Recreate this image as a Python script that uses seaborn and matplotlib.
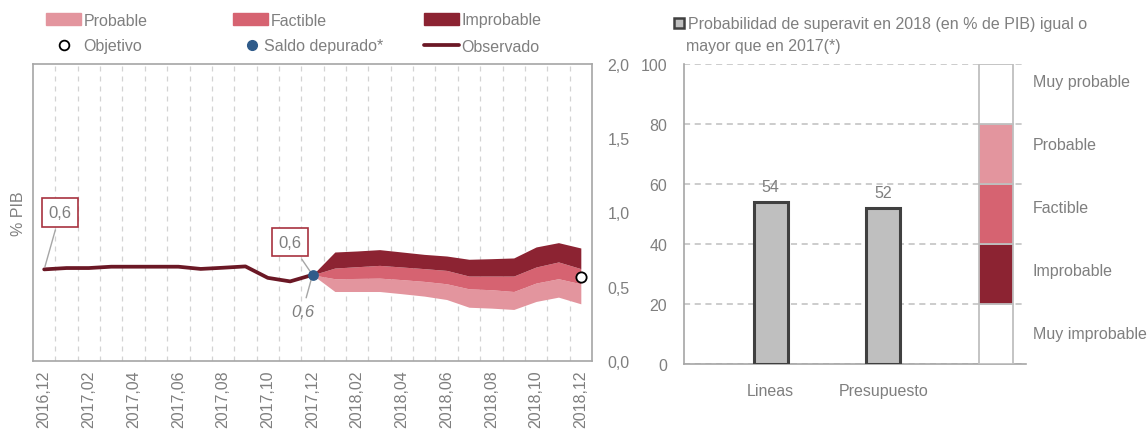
import matplotlib
matplotlib.use("Agg")
import matplotlib.pyplot as plt
import seaborn as sns
import pandas as pd
from matplotlib.patches import Patch
from matplotlib.lines import Line2D

# ---- data -------------------------------------------------------------
months = ["2016,12", "2017,01", "2017,02", "2017,03", "2017,04", "2017,05", "2017,06",
          "2017,07", "2017,08", "2017,09", "2017,10", "2017,11", "2017,12",
          "2018,01", "2018,02", "2018,03", "2018,04", "2018,05", "2018,06",
          "2018,07", "2018,08", "2018,09", "2018,10", "2018,11", "2018,12"]

observado = [0.617, 0.626, 0.626, 0.635, 0.635, 0.635, 0.635,
             0.620, 0.628, 0.637, 0.560, 0.536, 0.580]

# fan chart limits from 2017,12 to 2018,12
fan_bottom = [0.580, 0.468, 0.468, 0.468, 0.453, 0.437, 0.414, 0.362, 0.356, 0.347, 0.401, 0.430, 0.385]
fan_low = [0.580, 0.554, 0.556, 0.558, 0.548, 0.536, 0.520, 0.486, 0.480, 0.468, 0.525, 0.554, 0.520]
fan_high = [0.580, 0.626, 0.635, 0.644, 0.633, 0.622, 0.610, 0.572, 0.572, 0.572, 0.633, 0.667, 0.622]
fan_top = [0.580, 0.734, 0.741, 0.750, 0.734, 0.718, 0.707, 0.685, 0.689, 0.694, 0.768, 0.797, 0.761]

objetivo = 0.565
saldo_depurado = 0.580

bar_cats = ["Lineas", "Presupuesto"]
bar_vals = [54, 52]

gauge_labels = ["Muy improbable", "Improbable", "Factible", "Probable", "Muy probable"]
gauge_edges = [0, 20, 40, 60, 80, 100]
gauge_label_y = [10, 31, 52, 73, 94]

title_lines = ["Probabilidad de superavit en 2018 (en % de PIB) igual o", "mayor que en 2017(*)"]

# ---- style ------------------------------------------------------------
sns.set_theme(style="white")
plt.rcParams["font.family"] = ["Liberation Sans Narrow", "Liberation Sans", "DejaVu Sans"]
GRAY = "#7F7F7F"
C_PROB = "#E3959E"
C_FACT = "#D66371"
C_IMPR = "#8C2332"
C_OBS = "#6B1825"
C_BLUE = "#2F5B8A"
BOX = "#A8323F"
FS = 11.5

fig = plt.figure(figsize=(11.48, 4.35), dpi=100)
ax = fig.add_axes([33 / 1148, 1 - 362 / 435, (592 - 33) / 1148, (362 - 65) / 435])
ax2 = fig.add_axes([684 / 1148, 1 - 365 / 435, (1026 - 684) / 1148, (365 - 65) / 435])

# ---- left: fan chart --------------------------------------------------
x_all = list(range(len(months)))
n_obs = len(observado)
x_fan = x_all[n_obs - 1:]

ax.fill_between(x_fan, fan_bottom, fan_low, color=C_PROB, lw=0, zorder=2)
ax.fill_between(x_fan, fan_low, fan_high, color=C_FACT, lw=0, zorder=2)
ax.fill_between(x_fan, fan_high, fan_top, color=C_IMPR, lw=0, zorder=2)

obs_df = pd.DataFrame({"x": x_all[:n_obs], "v": observado})
sns.lineplot(data=obs_df, x="x", y="v", ax=ax, color=C_OBS, lw=2.7, zorder=3)
ax.scatter([x_all[n_obs - 1]], [saldo_depurado], s=45, color=C_BLUE, zorder=4)
ax.scatter([x_all[-1]], [objetivo], s=55, facecolor="white", edgecolor="black", lw=1.3, zorder=5)

fmt = lambda v: f"{v:.1f}".replace(".", ",")
box = dict(boxstyle="square,pad=0.4", fc="white", ec=BOX, lw=1.2)
arrow = dict(arrowstyle="-", color="#A6A6A6", lw=1)
ax.annotate(fmt(observado[0]), xy=(0, observado[0]), xytext=(0.72, 1.0),
            ha="center", va="center", fontsize=12, color=GRAY, bbox=box, arrowprops=arrow)
ax.annotate(fmt(observado[-1]), xy=(n_obs - 1, observado[-1]), xytext=(11.0, 0.80),
            ha="center", va="center", fontsize=12, color=GRAY, bbox=box, arrowprops=arrow)
ax.annotate(fmt(saldo_depurado), xy=(n_obs - 1, saldo_depurado), xytext=(11.55, 0.335),
            ha="center", va="center", fontsize=12, color=GRAY, style="italic", arrowprops=arrow)

ax.set_xlim(-0.5, len(months) - 0.5)
ax.set_ylim(0, 2)
ax.set_xticks(x_all[::2])
ax.set_xticklabels(months[::2], rotation=90, fontsize=11.5, color=GRAY)
ax.set_xticks([i + 0.5 for i in x_all[:-1]], minor=True)
ax.grid(which="minor", axis="x", color="#D3D3D3", ls=(0, (4, 4)), lw=0.9)
ax.grid(which="major", axis="both", visible=False)
ax.yaxis.tick_right()
ax.set_yticks([0, 0.5, 1, 1.5, 2])
ax.set_yticklabels([fmt(v) for v in [0, 0.5, 1, 1.5, 2]], fontsize=FS, color=GRAY)
ax.tick_params(axis="both", which="both", length=0)
ax.tick_params(axis="y", pad=11)
ax.tick_params(axis="x", pad=6)
ax.set_xlabel("")
ax.yaxis.set_label_position("left")
ax.set_ylabel("% PIB", fontsize=FS, color=GRAY, labelpad=5)
for s in ax.spines.values():
    s.set_color("#A6A6A6")
    s.set_linewidth(1.2)

# legend of left chart, one small legend per entry (handle x, row y, handle width in px)
entries = [
    (Patch(color=C_PROB), "Probable", 46, 21, 35),
    (Line2D([], [], ls="", marker="o", ms=7, mfc="white", mec="black", mew=1.3), "Objetivo", 46, 47, 35),
    (Patch(color=C_FACT), "Factible", 233, 21, 35),
    (Line2D([], [], ls="", marker="o", ms=7, color=C_BLUE), "Saldo depurado*", 241, 47, 21),
    (Patch(color=C_IMPR), "Improbable", 424, 21, 35),
    (Line2D([], [], color=C_OBS, lw=2.7), "Observado", 424, 47, 35),
]
fs_pix = FS * 100 / 72
for h, lab, xpix, ypix, wpix in entries:
    leg = fig.legend([h], [lab], loc="center left", bbox_to_anchor=(xpix / 1148, 1 - ypix / 435),
                     frameon=False, fontsize=FS, handlelength=wpix / fs_pix, handleheight=0.85,
                     handletextpad=0.15, borderpad=0, borderaxespad=0)
    for t in leg.get_texts():
        t.set_color(GRAY)

# ---- right: probability bars ------------------------------------------
bar_df = pd.DataFrame({"cat": bar_cats, "val": bar_vals})
sns.barplot(data=bar_df, x="cat", y="val", ax=ax2, color="#BFBFBF", width=0.3,
            edgecolor="#404040", linewidth=2.2, saturation=1, zorder=3)
ax2.bar_label(ax2.containers[0], labels=[str(v) for v in bar_vals], padding=6,
              fontsize=FS, color=GRAY)

g_colors = ["white", C_IMPR, C_FACT, C_PROB, "white"]
for lo, hi, c in zip(gauge_edges[:-1], gauge_edges[1:], g_colors):
    ax2.bar([2], [hi - lo], bottom=[lo], width=0.3, color=c, edgecolor="#BFBFBF", linewidth=1.3, zorder=3)
for lab, yv in zip(gauge_labels, gauge_label_y):
    ax2.text(1.02, yv, lab, transform=ax2.get_yaxis_transform(), fontsize=FS, color=GRAY, va="center")

ax2.set_xlim(-0.77, 2.27)
ax2.set_ylim(0, 100)
ax2.set_yticks([0, 20, 40, 60, 80, 100])
ax2.set_yticklabels(["0", "20", "40", "60", "80", "100"], fontsize=FS, color=GRAY)
ax2.yaxis.grid(True, color="#BFBFBF", ls=(0, (4, 3)), lw=1.1, zorder=0)
ax2.xaxis.grid(False)
ax2.set_axisbelow(True)
ax2.tick_params(axis="both", length=0)
ax2.tick_params(axis="y", pad=12)
ax2.tick_params(axis="x", pad=14, labelsize=FS, labelcolor=GRAY)
ax2.set_xlabel("")
ax2.set_ylabel("")
for side in ["top", "right"]:
    ax2.spines[side].set_visible(False)
for side in ["left", "bottom"]:
    ax2.spines[side].set_color("#A6A6A6")
    ax2.spines[side].set_linewidth(1.2)

leg2 = fig.legend([Patch(facecolor="#BFBFBF", edgecolor="#404040", lw=1.8)], [title_lines[0]],
                  loc="center left", bbox_to_anchor=(674 / 1148, 1 - 25 / 435), frameon=False,
                  fontsize=FS, handlelength=0.65, handleheight=0.65, handletextpad=0.2,
                  borderpad=0, borderaxespad=0)
for t in leg2.get_texts():
    t.set_color(GRAY)
fig.text(686 / 1148, 1 - 47 / 435, title_lines[1], fontsize=FS, color=GRAY, va="center", ha="left")

fig.savefig("out.png", dpi=100)
